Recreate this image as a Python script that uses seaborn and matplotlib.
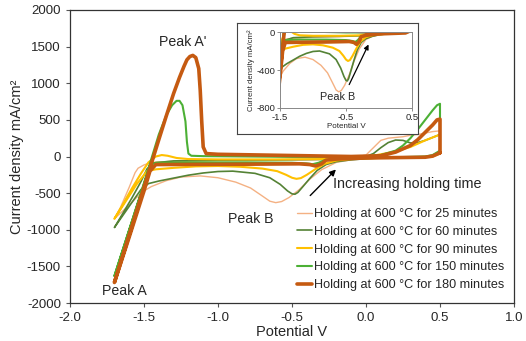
import numpy as np
import pandas as pd
import seaborn as sns
import matplotlib
matplotlib.use("Agg")
import matplotlib.pyplot as plt

# cyclic voltammograms (potential V, current density mA/cm2)
v_25 = [0.5, 0.45, 0.4, 0.3, 0.2, 0.1, 0.0, -0.1, -0.2, -0.3, -0.38, -0.45, -0.52, -0.57, -0.61, -0.65,
        -0.7, -0.78, -0.88, -1.0, -1.12, -1.25, -1.35, -1.45, -1.5, -1.55, -1.62, -1.7, -1.66, -1.6,
        -1.56, -1.54, -1.5, -1.45, -1.3, -1.0, -0.6, -0.3, -0.1, 0.0, 0.05, 0.1, 0.15, 0.2, 0.25, 0.3,
        0.35, 0.4, 0.45, 0.5, 0.5]
i_25 = [60, 20, 0, -10, -15, -20, -30, -45, -80, -180, -310, -450, -560, -615, -630, -610,
        -540, -430, -350, -290, -265, -280, -330, -410, -470, -560, -700, -850, -700, -420,
        -220, -160, -115, -80, -65, -55, -50, -40, -20, 20, 120, 220, 250, 260, 270, 290,
        300, 320, 340, 350, 60]

v_60 = [0.5, 0.45, 0.4, 0.3, 0.1, 0.0, -0.1, -0.2, -0.27, -0.33, -0.38, -0.43, -0.46, -0.48, -0.5, -0.53,
        -0.58, -0.65, -0.75, -0.9, -1.0, -1.1, -1.2, -1.3, -1.4, -1.47, -1.52, -1.6, -1.7, -1.65,
        -1.58, -1.52, -1.48, -1.44, -1.3, -1.0, -0.6, -0.3, -0.1, 0.0, 0.05, 0.1, 0.15, 0.2, 0.25,
        0.3, 0.35, 0.4, 0.45, 0.5, 0.5]
i_60 = [50, 10, -5, -10, -20, -30, -45, -70, -110, -190, -300, -420, -490, -515, -510, -470,
        -380, -290, -230, -200, -205, -225, -255, -295, -335, -370, -450, -680, -970, -800,
        -560, -340, -170, -90, -60, -50, -45, -40, -20, 0, 40, 120, 190, 225, 220,
        185, 190, 220, 260, 300, 50]

v_90 = [0.5, 0.45, 0.4, 0.2, 0.0, -0.1, -0.2, -0.28, -0.34, -0.4, -0.44, -0.47, -0.5, -0.54, -0.6,
        -0.7, -0.85, -1.0, -1.15, -1.3, -1.42, -1.48, -1.55, -1.62, -1.7, -1.65, -1.58, -1.52,
        -1.47, -1.42, -1.38, -1.34, -1.28, -1.2, -1.0, -0.6, -0.3, -0.1, 0.0, 0.1, 0.2, 0.3, 0.4,
        0.45, 0.5, 0.5]
i_90 = [40, 0, -5, -15, -25, -35, -55, -100, -170, -250, -295, -305, -290, -250, -200,
        -165, -140, -130, -135, -155, -175, -200, -380, -600, -850, -680, -430, -230,
        -80, 0, 20, 10, -20, -35, -40, -40, -35, -20, -5, 30, 70, 130, 220,
        260, 300, 40]

v_150 = [0.5, 0.45, 0.4, 0.2, 0.0, -0.2, -0.28, -0.32, -0.36, -0.4, -0.5, -0.8, -1.2, -1.42, -1.46,
         -1.5, -1.6, -1.7, -1.6, -1.5, -1.45, -1.4, -1.35, -1.31, -1.28, -1.26, -1.24, -1.22, -1.21,
         -1.2, -1.18, -1.1, -0.8, -0.5, -0.2, 0.0, 0.1, 0.2, 0.25, 0.3, 0.35, 0.4, 0.45, 0.48,
         0.5, 0.5]
i_150 = [80, 20, 0, -10, -20, -35, -50, -85, -105, -95, -85, -80, -80, -85, -120,
         -380, -1000, -1630, -1000, -360, -30, 300, 560, 700, 760, 760, 700, 480, 200,
         40, 10, 5, 0, -5, -5, 0, 20, 80, 150, 250, 370, 500, 630, 700,
         720, 80]

v_180 = [0.5, 0.45, 0.4, 0.2, 0.0, -0.2, -0.27, -0.3, -0.34, -0.38, -0.45, -0.8, -1.2, -1.42, -1.46,
         -1.5, -1.6, -1.7, -1.6, -1.5, -1.44, -1.4, -1.35, -1.3, -1.26, -1.23, -1.21, -1.19, -1.17,
         -1.15, -1.13, -1.12, -1.11, -1.10, -1.08, -1.0, -0.7, -0.4, -0.1, 0.1, 0.2, 0.3, 0.35,
         0.4, 0.45, 0.48, 0.5, 0.5]
i_180 = [50, 5, -10, -15, -20, -35, -50, -100, -130, -110, -100, -105, -108, -110, -200,
         -470, -1100, -1720, -1070, -420, -30, 230, 550, 860, 1080, 1230, 1320, 1365, 1380,
         1350, 1200, 900, 480, 130, 40, 30, 20, 10, 0, 10, 60, 150, 230,
         330, 430, 500, 510, 50]

labels = ["Holding at 600 °C for 25 minutes", "Holding at 600 °C for 60 minutes",
          "Holding at 600 °C for 90 minutes", "Holding at 600 °C for 150 minutes",
          "Holding at 600 °C for 180 minutes"]
colors = ["#F4B183", "#548235", "#FFC000", "#4CB035", "#C55A11"]
widths = [1.0, 1.2, 1.5, 1.5, 2.6]
curves = [(v_25, i_25), (v_60, i_60), (v_90, i_90), (v_150, i_150), (v_180, i_180)]

sns.set_style("ticks")
plt.rcParams["font.family"] = ["Liberation Sans", "DejaVu Sans"]
plt.rcParams["axes.unicode_minus"] = False

fig = plt.figure(figsize=(5.26, 3.41), dpi=100)
ax = fig.add_axes([70 / 526, 1 - 303 / 341, 444 / 526, 293 / 341])


def draw(axis, legend):
    for (v, i), lab, c, w in zip(curves, labels, colors, widths):
        df = pd.DataFrame({"Potential": v, "Current": i})
        sns.lineplot(data=df, x="Potential", y="Current", ax=axis, sort=False, estimator=None,
                     color=c, lw=w, label=lab if legend else None, legend=False)


draw(ax, True)
ax.set_xlim(-2.0, 1.0)
ax.set_ylim(-2000, 2000)
ax.set_xticks(np.arange(-2.0, 1.01, 0.5))
ax.set_xticklabels([f"{t:.1f}" for t in np.arange(-2.0, 1.01, 0.5)])
ax.set_yticks(np.arange(-2000, 2001, 500))
ax.tick_params(labelsize=9.5, length=3, width=0.8, color="#555555")
for s in ax.spines.values():
    s.set_color("#333333")
    s.set_linewidth(0.9)
ax.set_xlabel("Potential V", fontsize=10.5, labelpad=1)
ax.set_ylabel("Current density mA/cm²", fontsize=10.5, labelpad=2)

ax.text(-1.24, 1560, "Peak A'", fontsize=10.2, ha="center", va="center")
ax.text(-1.63, -1835, "Peak A", fontsize=10.2, ha="center", va="center")
ax.text(-0.78, -850, "Peak B", fontsize=10.2, ha="center", va="center")
ax.text(-0.22, -370, "Increasing holding time", fontsize=10.4, ha="left", va="center")
ax.annotate("", xy=(-0.19, -150), xytext=(-0.39, -560),
            arrowprops=dict(arrowstyle="-|>", color="black", lw=1.0, mutation_scale=9))

leg = ax.legend(loc="lower right", bbox_to_anchor=(0.958, 0.146), bbox_transform=fig.transFigure,
                frameon=False, fontsize=9.1, handlelength=1.2, handletextpad=0.1,
                labelspacing=0.46, borderpad=0, borderaxespad=0)

# inset frame and inset
frame = fig.add_axes([237 / 526, 1 - 134 / 341, 181 / 526, 111 / 341])
frame.set_xticks([])
frame.set_yticks([])
frame.set_facecolor("white")
for s in frame.spines.values():
    s.set_color("#444444")
    s.set_linewidth(0.8)

ins = fig.add_axes([280 / 526, 1 - 108 / 341, 132 / 526, 76 / 341])
draw(ins, False)
ins.set_xlim(-1.5, 0.5)
ins.set_ylim(-800, 0)
ins.set_xticks([-1.5, -0.5, 0.5])
ins.set_xticklabels(["-1.5", "-0.5", "0.5"])
ins.set_yticks([0, -400, -800])
ins.tick_params(labelsize=6.8, length=2, width=0.6, pad=1.5, color="#777777")
for s in ins.spines.values():
    s.set_color("#888888")
    s.set_linewidth(0.7)
ins.set_xlabel("Potential V", fontsize=5.8, labelpad=1)
ins.set_ylabel("Current density mA/cm²", fontsize=5.6, labelpad=1)
ins.text(-0.62, -684, "Peak B", fontsize=7.8, ha="center", va="center")
ins.annotate("", xy=(-0.14, -105), xytext=(-0.47, -580),
             arrowprops=dict(arrowstyle="-|>", color="black", lw=0.9, mutation_scale=7))

fig.savefig("out.png", dpi=100)
